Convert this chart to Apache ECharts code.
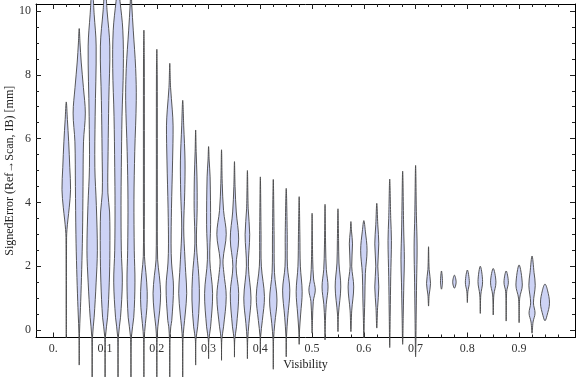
<!DOCTYPE html>
<html>
<head>
<meta charset="utf-8">
<script src="https://cdn.jsdelivr.net/npm/echarts@6/dist/echarts.min.js"></script>
<style>
  html, body { margin: 0; padding: 0; background: #fff; }
  #chart { width: 576px; height: 377px; }
</style>
</head>
<body>
<div id="chart"></div>
<script>
// violin centres (Visibility bins)
var positions = [0.025, 0.05, 0.075, 0.1, 0.125, 0.15, 0.175, 0.2, 0.225, 0.25,
  0.275, 0.3, 0.325, 0.35, 0.375, 0.4, 0.425, 0.45, 0.475, 0.5,
  0.525, 0.55, 0.575, 0.6, 0.625, 0.65, 0.675, 0.7, 0.725, 0.75,
  0.775, 0.8, 0.825, 0.85, 0.875, 0.9, 0.925, 0.95];

// density profile of each violin: [signed error (mm), density], from min to max
var profiles = [
  [[-0.25,0],[2.9,0.3],[3.15,0.7],[3.45,1.6],[3.85,3.0],[4.4,4.3],[5.1,3.5],[5.9,2.4],[6.6,1.1],[7.15,0]],
  [[-1.1,0],[-0.1,0.3],[0.5,1.0],[0.9,1.5],[1.9,2.5],[3.0,3.3],[4.5,3.8],[5.9,4.3],[6.8,6.1],[7.6,4.2],[8.4,2.0],[9.0,0.8],[9.45,0]],
  [[-1.6,0],[-0.2,0.4],[0.4,2.0],[1.5,4.0],[2.5,5.2],[3.9,4.2],[5.1,2.7],[6.7,3.0],[8.9,4.0],[9.9,2.0],[10.8,0]],
  [[-1.6,0],[-0.2,0.4],[0.4,2.5],[1.5,4.2],[2.5,4.8],[3.7,4.5],[4.3,2.8],[5.6,3.0],[7.2,3.7],[8.9,4.7],[10.0,2.0],[10.8,0]],
  [[-1.6,0],[-0.2,0.4],[0.4,2.5],[1.5,4.3],[2.5,3.3],[3.9,3.0],[5.1,3.3],[6.7,4.0],[8.2,5.3],[9.4,4.8],[10.3,2.0],[10.8,0]],
  [[-1.6,0],[-0.2,0.5],[0.4,2.8],[1.5,4.0],[2.5,3.3],[4.1,3.0],[5.6,3.8],[7.2,5.3],[8.2,4.7],[9.4,2.3],[10.2,0.8],[10.8,0]],
  [[-1.6,0],[-0.3,0.3],[0.2,1.5],[0.7,3.0],[1.2,3.3],[1.8,2.0],[2.3,0.6],[4.0,0.5],[8.5,0.4],[9.4,0]],
  [[-1.6,0],[-0.3,0.3],[0.1,1.0],[0.6,2.8],[1.15,3.8],[1.7,2.5],[2.2,0.8],[4.0,0.5],[8.0,0.4],[8.8,0]],
  [[-1.6,0],[-0.3,0.3],[0.1,1.0],[0.3,2.0],[1.35,3.7],[2.1,1.8],[2.7,1.3],[3.8,1.7],[5.3,2.8],[6.4,3.3],[6.9,2.5],[7.6,0.8],[8.36,0]],
  [[-1.55,0],[-0.3,0.3],[0.1,1.2],[0.5,2.5],[1.15,4.0],[1.8,3.0],[2.2,2.3],[3.2,1.0],[4.3,2.0],[5.3,2.3],[6.4,1.0],[7.2,0]],
  [[-1.1,0],[-0.3,0.3],[0.1,2.0],[0.94,3.7],[1.67,3.2],[2.7,0.8],[3.8,1.5],[4.8,1.3],[5.6,0.5],[6.27,0]],
  [[-0.9,0],[-0.3,0.3],[0.1,2.0],[1.15,4.0],[2.2,1.2],[3.3,2.0],[4.8,1.5],[5.3,0.6],[5.75,0]],
  [[-0.95,0],[-0.3,0.3],[0.1,2.0],[1.05,4.7],[1.8,2.3],[2.2,1.5],[3.0,4.7],[3.75,2.0],[4.6,0.7],[5.65,0]],
  [[-0.85,0],[-0.3,0.3],[0.1,2.0],[1.15,4.2],[2.0,1.6],[2.85,4.2],[3.7,1.8],[4.5,0.6],[5.28,0]],
  [[-0.9,0],[-0.3,0.3],[0.2,1.5],[1.0,3.6],[2.0,1.0],[3.0,2.3],[3.8,0.8],[5.0,0]],
  [[-0.75,0],[-0.2,0.3],[0.3,2.0],[1.05,4.1],[2.0,1.0],[3.0,0.7],[4.8,0]],
  [[-1.23,0],[-0.3,0.3],[0.2,1.5],[0.94,3.7],[1.8,1.2],[3.0,0.8],[4.72,0]],
  [[-0.84,0],[-0.2,0.3],[0.4,1.5],[1.25,3.6],[2.0,1.2],[3.0,1.0],[4.44,0]],
  [[-0.45,0],[0.0,0.4],[0.5,1.5],[1.2,3.0],[2.0,1.2],[3.0,0.7],[4.18,0]],
  [[-0.1,0],[0.3,0.4],[0.9,1.2],[1.25,3.2],[1.6,1.5],[2.2,0.6],[3.66,0]],
  [[-0.31,0],[0.3,0.4],[0.8,1.2],[1.35,3.0],[1.9,1.3],[2.6,0.6],[3.94,0]],
  [[-0.05,0],[0.5,0.5],[1.35,2.8],[2.1,1.0],[2.8,0.6],[3.8,0]],
  [[-0.05,0],[0.6,0.8],[1.35,2.8],[2.0,0.8],[2.7,1.6],[3.1,0.6],[3.4,0]],
  [[-0.25,0],[0.4,0.5],[1.0,1.0],[1.77,1.5],[2.5,3.2],[3.1,1.5],[3.43,0]],
  [[0.06,0],[0.7,0.8],[1.35,2.0],[2.0,1.0],[2.7,2.0],[3.3,1.0],[3.97,0]],
  [[-0.55,0],[0.5,0.5],[1.67,1.0],[2.8,1.7],[3.5,1.0],[4.73,0]],
  [[-0.45,0],[0.5,0.6],[1.5,1.2],[2.2,1.7],[3.2,1.0],[4.98,0]],
  [[-0.84,0],[0.5,0.6],[1.5,1.0],[2.6,1.5],[3.6,0.8],[5.16,0]],
  [[0.75,0],[1.1,0.6],[1.46,2.0],[1.9,0.6],[2.61,0]],
  [[1.28,0],[1.5,1.0],[1.85,0]],
  [[1.31,0],[1.5,1.7],[1.72,0]],
  [[0.86,0],[1.2,0.5],[1.5,2.0],[1.88,0]],
  [[0.52,0],[1.1,0.5],[1.52,2.3],[2.0,0]],
  [[0.47,0],[1.1,0.6],[1.5,2.7],[1.93,0]],
  [[0.28,0],[1.2,0.5],[1.5,2.2],[1.85,0]],
  [[0.23,0],[1.0,0.6],[1.41,3.2],[2.04,0]],
  [[-0.1,0],[0.25,1.0],[0.53,3.0],[0.85,1.4],[1.4,3.2],[1.8,2.0],[2.32,0]],
  [[0.29,0],[0.45,2.0],[0.84,4.5],[1.25,2.5],[1.44,0]]
];

// tick marks / labels
var xLabels = [0, 0.1, 0.2, 0.3, 0.4, 0.5, 0.6, 0.7, 0.8, 0.9];
var xMinor = [];
for (var i = 0; i <= 39; i++) xMinor.push(+(i * 0.025).toFixed(3));
var yLabels = [0, 2, 4, 6, 8, 10];
var yMinor = [];
for (var j = 0; j <= 20; j++) yMinor.push(j * 0.5);

var myChart = echarts.init(document.getElementById('chart'));

var widthScale = 1; // px of half width per density unit
var lineCol = '#000';
var font = 'Liberation Serif';

function renderViolin(params, api) {
  var idx = params.dataIndex;
  var x = api.value(0);
  var prof = profiles[idx];
  var right = [], left = [];
  for (var k = 0; k < prof.length; k++) {
    var c = api.coord([x, prof[k][0]]);
    var w = prof[k][1] * widthScale;
    right.push([c[0] + w, c[1]]);
    if (k > 0 && k < prof.length - 1) left.unshift([c[0] - w, c[1]]);
  }
  return {
    type: 'polygon',
    shape: { points: right.concat(left), smooth: 0.35 },
    style: { fill: '#cdd3f5', stroke: 'rgba(70,70,70,0.9)', lineWidth: 1 }
  };
}

function xAx(pos, custom, len, showLabel, showLine) {
  return {
    type: 'value', position: pos, min: -0.0335, max: 1.008,
    splitLine: { show: false },
    axisLine: { show: showLine, onZero: false, lineStyle: { color: lineCol, width: 1 } },
    axisTick: { show: true, inside: true, length: len, customValues: custom, lineStyle: { color: '#222' } },
    axisLabel: {
      show: showLabel, customValues: xLabels, margin: 5,
      fontFamily: font, fontSize: 12, color: '#333',
      formatter: function (v) { return v === 0 ? '0.' : v.toFixed(1); }
    }
  };
}

function yAx(pos, custom, len, showLabel, showLine) {
  return {
    type: 'value', position: pos, min: -0.235, max: 10.22,
    splitLine: { show: false },
    axisLine: { show: showLine, onZero: false, lineStyle: { color: lineCol, width: 1 } },
    axisTick: { show: true, inside: true, length: len, customValues: custom, lineStyle: { color: '#222' } },
    axisLabel: {
      show: showLabel, customValues: yLabels, margin: 5,
      fontFamily: font, fontSize: 12, color: '#333'
    }
  };
}

var xBottom = xAx('bottom', xLabels, 5, true, true);
xBottom.name = 'Visibility';
xBottom.nameLocation = 'middle';
xBottom.nameGap = 21;
xBottom.nameMoveOverlap = false;
xBottom.nameTextStyle = { fontFamily: font, fontSize: 12, color: '#222' };

var yLeft = yAx('left', yLabels, 5, true, true);
yLeft.name = 'SignedError (Ref\u2192Scan, IB) [mm]';
yLeft.nameLocation = 'middle';
yLeft.nameGap = 20;
yLeft.nameMoveOverlap = false;
yLeft.nameTextStyle = { fontFamily: font, fontSize: 12, color: '#222' };

var option = {
  animation: false,
  grid: { left: 36, right: 1, top: 4, bottom: 39.5, outerBoundsMode: 'none' },
  xAxis: [
    xBottom,
    xAx('bottom', xMinor, 3, false, false),
    xAx('top', xLabels, 5, false, true),
    xAx('top', xMinor, 3, false, false)
  ],
  yAxis: [
    yLeft,
    yAx('left', yMinor, 3, false, false),
    yAx('right', yLabels, 5, false, true),
    yAx('right', yMinor, 3, false, false)
  ],
  series: [{
    type: 'custom',
    clip: false,
    renderItem: renderViolin,
    data: positions.map(function (p, i) { return [p, i]; }),
    encode: { x: 0, y: -1 }
  }]
};

option && myChart.setOption(option);
</script>
</body>
</html>
